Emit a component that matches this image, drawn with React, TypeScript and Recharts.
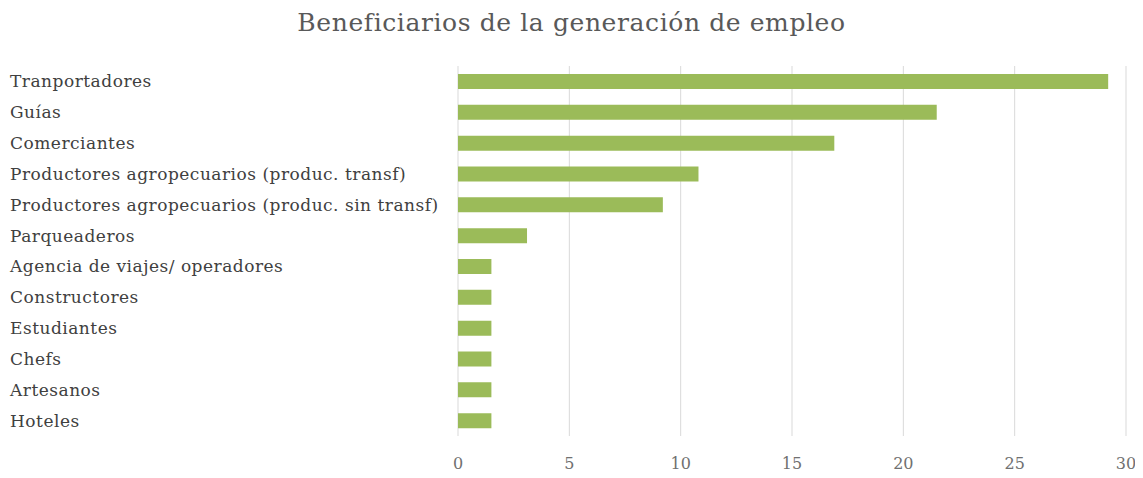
import { BarChart, Bar, XAxis, YAxis, CartesianGrid } from 'recharts';

const categories = [
  'Tranportadores',
  'Guías',
  'Comerciantes',
  'Productores agropecuarios (produc. transf)',
  'Productores agropecuarios (produc. sin transf)',
  'Parqueaderos',
  'Agencia de viajes/ operadores',
  'Constructores',
  'Estudiantes',
  'Chefs',
  'Artesanos',
  'Hoteles',
];

const values = [29.2, 21.5, 16.9, 10.8, 9.2, 3.1, 1.5, 1.5, 1.5, 1.5, 1.5, 1.5];

const xTicks = [0, 5, 10, 15, 20, 25, 30];

const data = categories.map((name, i) => ({ name, value: values[i] }));

const FONT = '"DejaVu Serif", serif';

const LeftTick = (props: any) => {
  const { y, payload } = props;
  return (
    <text
      x={10}
      y={y}
      textAnchor="start"
      dominantBaseline="central"
      fill="#404040"
      fontSize={17}
      letterSpacing={0.5}
      fontFamily={FONT}
    >
      {payload.value}
    </text>
  );
};

const App = () => {
  return (
    <div style={{ position: 'relative', width: 1143, height: 478, margin: -8, background: '#fff' }}>
      <div
        style={{
          position: 'absolute',
          top: 8,
          left: 0,
          width: 1143,
          textAlign: 'center',
          fontFamily: FONT,
          fontSize: 25,
          letterSpacing: 0.6,
          color: '#595959',
        }}
      >
        Beneficiarios de la generación de empleo
      </div>
      <BarChart
        width={1143}
        height={478}
        data={data}
        layout="vertical"
        margin={{ top: 66, right: 17, left: 0, bottom: 12 }}
        style={{ overflow: 'visible' }}
      >
        <CartesianGrid horizontal={false} stroke="#d9d9d9" />
        <XAxis
          type="number"
          domain={[0, 30]}
          ticks={xTicks}
          axisLine={false}
          tickLine={false}
          height={30}
          tick={{ fill: '#707070', fontSize: 16, fontFamily: FONT }}
          dy={14}
        />
        <YAxis
          type="category"
          dataKey="name"
          width={458}
          axisLine={false}
          tickLine={false}
          interval={0}
          tick={<LeftTick />}
        />
        <Bar dataKey="value" fill="#9bbb59" barSize={15} isAnimationActive={false} />
      </BarChart>
    </div>
  );
};

export default App;
